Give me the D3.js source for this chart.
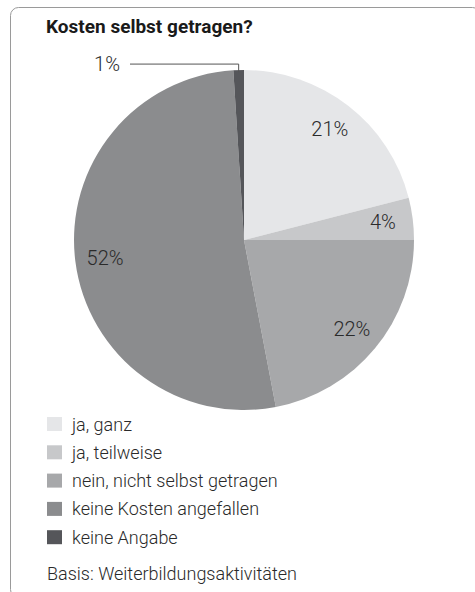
<!DOCTYPE html>
<html>
<head>
<meta charset="utf-8">
<script src="https://cdn.jsdelivr.net/npm/d3@7"></script>
<style>
  html, body { margin: 0; padding: 0; background: #ffffff; }
  svg { display: block; }
  text { font-family: "Roboto", sans-serif; font-weight: 300; }
</style>
</head>
<body>
<svg id="chart" width="475" height="592"></svg>
<script>
// Who paid for the training: share of answers in percent
const categories = ["ja, ganz", "ja, teilweise", "nein, nicht selbst getragen", "keine Kosten angefallen", "keine Angabe"];
const values = [21, 4, 22, 52, 1];
const colors = ["#e5e6e8", "#c7c8ca", "#a7a8aa", "#8b8c8e", "#55565a"];
const title = "Kosten selbst getragen?";
const note = "Basis: Weiterbildungsaktivitäten";

const svg = d3.select("#chart");

// outer frame, open at the bottom edge
svg.append("rect")
  .attr("x", 10.5).attr("y", 7.5)
  .attr("width", 470).attr("height", 590)
  .attr("rx", 8).attr("ry", 8)
  .attr("fill", "none")
  .attr("stroke", "#9a9a9a")
  .attr("stroke-width", 1);

svg.append("text")
  .attr("x", 46).attr("y", 33)
  .attr("font-size", 19)
  .style("font-weight", 700)
  .attr("fill", "#1a1a1a")
  .text(title);

// pie
const cx = 244, cy = 240, R = 170, labelR = 140;
const pie = d3.pie().value(d => d.v).sort(null);
const arcs = pie(categories.map((c, i) => ({ c, v: values[i], col: colors[i] })));
const arc = d3.arc().innerRadius(0).outerRadius(R);

const g = svg.append("g").attr("transform", `translate(${cx},${cy})`);
g.selectAll("path.slice")
  .data(arcs)
  .join("path")
  .attr("class", "slice")
  .attr("d", arc)
  .attr("fill", d => d.data.col);

// labels inside the larger slices
const labelArc = d3.arc().innerRadius(labelR).outerRadius(labelR);
g.selectAll("text.pct")
  .data(arcs.filter(d => d.data.v >= 4))
  .join("text")
  .attr("class", "pct")
  .attr("transform", d => `translate(${labelArc.centroid(d)})`)
  .attr("text-anchor", "middle")
  .attr("dominant-baseline", "central")
  .attr("font-size", 20)
  .attr("fill", "#2a2a2a")
  .text(d => d.data.v + "%");

// the tiny slice gets a leader line to an outside label
const small = arcs.filter(d => d.data.v < 4);
small.forEach(d => {
  const mid = (d.startAngle + d.endAngle) / 2;
  const px = Math.sin(mid) * R, py = -Math.cos(mid) * R;
  const ly = py - 6;
  g.append("path")
    .attr("d", `M${px},${py + 2}V${ly}H${-114}`)
    .attr("fill", "none")
    .attr("stroke", "#555")
    .attr("stroke-width", 1);
  g.append("text")
    .attr("x", -124).attr("y", ly)
    .attr("text-anchor", "end")
    .attr("dominant-baseline", "central")
    .attr("font-size", 20)
    .attr("fill", "#2a2a2a")
    .text(d.data.v + "%");
});

// legend
const lx = 47, ly0 = 417, step = 28.3;
const leg = svg.append("g");
categories.forEach((c, i) => {
  leg.append("rect")
    .attr("x", lx).attr("y", ly0 + i * step)
    .attr("width", 15).attr("height", 14)
    .attr("fill", colors[i]);
  leg.append("text")
    .attr("x", 72).attr("y", ly0 + i * step + 7)
    .attr("dominant-baseline", "central")
    .attr("font-size", 18)
    .attr("fill", "#2a2a2a")
    .text(c);
});
svg.append("text")
  .attr("x", 47).attr("y", 573)
  .attr("dominant-baseline", "central")
  .attr("font-size", 18)
  .attr("fill", "#2a2a2a")
  .text(note);
</script>
</body>
</html>
